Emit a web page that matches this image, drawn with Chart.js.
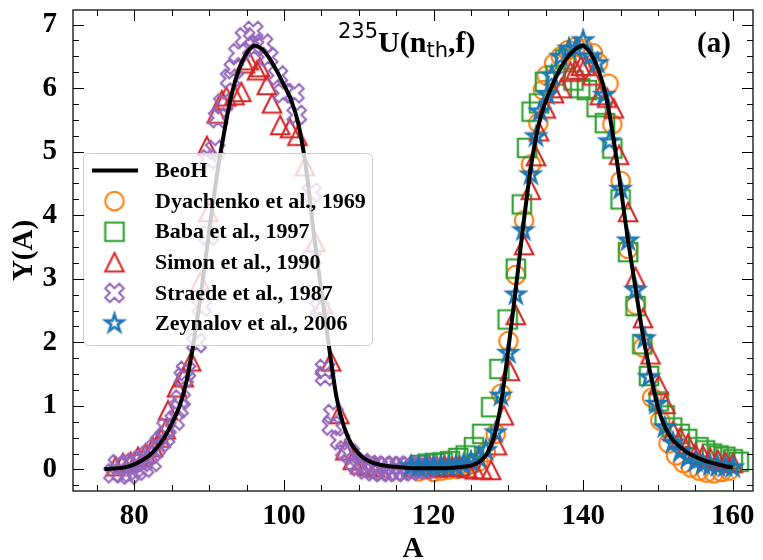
<!DOCTYPE html>
<html>
<head>
<meta charset="utf-8">
<script src="https://cdn.jsdelivr.net/npm/chart.js@4.4.0/dist/chart.umd.min.js"></script>
<style>
  html, body { margin: 0; padding: 0; background: #fff; }
  #wrap { width: 763px; height: 560px; }
</style>
</head>
<body>
<div id="wrap"><canvas id="chart" width="763" height="560"></canvas></div>
<script>
// ---- data ----
const xTicks = [80, 100, 120, 140, 160];
const yTicks = [0, 1, 2, 3, 4, 5, 6, 7];

const beohA = [76, 77, 78, 79, 80, 81, 82, 83, 84, 85, 86, 87, 88, 89, 90, 91, 92, 93, 94, 95,
  96, 97, 98, 99, 100, 101, 102, 103, 104, 105, 106, 107, 108, 109, 110, 111, 112, 113, 114, 115,
  116, 117, 118, 119, 120, 121, 122, 123, 124, 125, 126, 127, 128, 129, 130, 131, 132, 133, 134, 135,
  136, 137, 138, 139, 140, 141, 142, 143, 144, 145, 146, 147, 148, 149, 150, 151, 152, 153, 154, 155,
  156, 157, 158, 159, 160];
const beohY = [0.005, 0.01, 0.02, 0.04, 0.08, 0.14, 0.22, 0.34, 0.5, 0.72, 0.98, 1.4, 2.05, 2.85, 3.75, 4.6, 5.3, 5.9, 6.3, 6.55,
  6.67, 6.62, 6.48, 6.28, 6.05, 5.8, 5.4, 4.7, 3.7, 2.8, 1.95, 1.15, 0.68, 0.4, 0.25, 0.15, 0.1, 0.07, 0.05, 0.04,
  0.03, 0.02, 0.02, 0.02, 0.02, 0.02, 0.02, 0.03, 0.04, 0.06, 0.11, 0.22, 0.48, 1.02, 1.9, 2.85, 3.85, 4.75, 5.4, 5.8,
  6.08, 6.32, 6.5, 6.62, 6.67, 6.55, 6.3, 5.9, 5.25, 4.45, 3.6, 2.85, 2.1, 1.5, 0.97, 0.65, 0.46, 0.35, 0.26, 0.2,
  0.15, 0.11, 0.08, 0.05, 0.03];

const dyachenkoA = [118, 119, 120, 121, 122, 123, 124, 125, 126, 127, 128.3, 129, 130, 131, 132.1, 133, 134, 134.6, 135.1, 136.1,
  137, 138, 139, 140, 141.3, 142, 143.4, 143.9, 145, 146, 147, 148, 149.2, 150.3, 151.4, 152.4, 153.4, 154.4, 155.5, 156.5,
  157.5, 158.5, 159.5];
const dyachenkoY = [-0.03, 0.0, -0.04, -0.02, 0.0, 0.01, 0.03, 0.08, 0.12, 0.27, 0.56, 1.19, 2.02, 3.06, 3.92, 4.8, 5.45, 5.97, 6.2, 6.39,
  6.5, 6.6, 6.65, 6.62, 6.55, 6.4, 6.07, 5.43, 4.54, 3.47, 2.59, 1.92, 1.13, 0.77, 0.41, 0.22, 0.1, 0.03, -0.02, -0.05,
  -0.06, -0.04, -0.02];

const babaA = [118.2, 119.2, 120.2, 121.2, 122.2, 123.3, 124.3, 125.4, 126.5, 127.7, 128.8, 129.9, 131, 131.8, 132.5, 133.1, 134.1, 134.9, 136.3, 137.6,
  138.7, 139.6, 140.5, 141.8, 142.9, 143.9, 145, 146, 147, 147.9, 148.8, 150.1, 150.9, 151.9, 152.9, 153.9, 155.4, 156.3, 157.2, 158.1,
  159, 160, 160.8];
const babaY = [0.07, 0.09, 0.1, 0.11, 0.13, 0.18, 0.22, 0.35, 0.56, 0.98, 1.58, 2.36, 3.16, 4.17, 5.06, 5.63, 5.76, 6.1, 6.2, 6.45,
  6.12, 6.0, 5.97, 5.7, 5.45, 5.05, 4.25, 3.42, 2.57, 1.97, 1.47, 1.07, 0.85, 0.66, 0.56, 0.48, 0.35, 0.3, 0.25, 0.22,
  0.2, 0.16, 0.12];

const simonA = [77.5, 78.5, 79.5, 80.5, 81.5, 82.5, 83.5, 84.2, 84.5, 85.7, 86.6, 87.6, 88.8, 89.9, 89.7, 91, 91.7, 92.3, 93.4, 94.3,
  94.8, 95.3, 96.4, 96.8, 97.7, 98.4, 99.5, 100.8, 101.8, 102.8, 104.2, 105.2, 106.3, 107.4, 108.2, 109.2, 110.2, 111.2, 112.2,
  117.5, 118.5, 119.5, 120.5, 121.5, 122.5, 123.5, 124.5, 125.5, 126.5, 127.7, 128.5, 129.4, 130.2, 131, 132.1, 133, 133.7, 134.1,
  135, 136.1, 137.1, 138.3, 139, 139.7, 140.3, 141.2, 142.2, 143.2, 144.1, 144.8, 146, 147, 148, 149, 150.1, 151, 152,
  153, 154, 155, 156, 157, 158, 159, 160];
const simonY = [0.05, 0.1, 0.12, 0.2, 0.25, 0.35, 0.5, 0.63, 0.93, 1.29, 1.45, 1.7, 2.95, 4.05, 5.09, 5.6, 5.81, 5.87, 5.89, 5.94,
  6.39, 6.44, 6.28, 6.33, 6.05, 5.76, 5.42, 5.37, 5.25, 4.77, 3.58, 2.6, 1.7, 0.87, 0.3, 0.15, 0.08, 0.05, 0.03,
  0.03, 0.02, 0.04, 0.03, 0.05, 0.04, 0.05, 0.02, 0.0, 0.0, -0.01, 0.38, 0.85, 1.55, 2.43, 3.53, 4.4, 4.93, 5.32,
  5.68, 5.92, 6.0, 6.26, 6.29, 6.35, 6.35, 6.2, 5.89, 5.85, 5.68, 4.95, 4.05, 3.03, 2.38, 1.81, 1.33, 1.03, 0.6,
  0.5, 0.4, 0.25, 0.22, 0.18, 0.15, 0.12, 0.1];

const straedeA = [77.2, 77.8, 78.3, 78.8, 79.3, 79.8, 80.3, 80.8, 81.3, 81.8, 82.3, 82.8, 83.5, 84.1, 84.3, 85.4, 85.9, 86.2, 86.6, 86.9,
  88.3, 89, 89.9, 89.9, 90.8, 91.2, 91.9, 92.8, 93.3, 93.9, 94.8, 95.9, 96, 97.2, 97.9, 99.2, 99.9, 101.4, 101.7, 103.7,
  103.7, 104.8, 105.5, 105.5, 106.4, 106.6, 107.5, 108.2, 108.8, 109.5, 110, 110.5, 111, 111.5, 112, 112.5, 113, 113.5, 114, 114.5,
  115, 115.5, 116, 116.5, 117, 117.5, 118, 118.5, 119, 119.5];
const straedeY = [-0.06, 0.08, -0.05, 0.05, -0.08, 0.1, -0.02, 0.15, 0.03, 0.22, 0.12, 0.33, 0.43, 0.51, 0.66, 0.77, 0.96, 1.1, 1.45, 1.55,
  1.99, 2.56, 3.68, 4.88, 5.03, 5.53, 5.76, 6.15, 6.3, 6.55, 6.8, 6.9, 6.65, 6.7, 6.49, 6.2, 5.92, 5.92, 5.58, 4.36,
  3.32, 2.54, 1.58, 1.47, 0.69, 0.87, 0.46, 0.3, 0.25, 0.12, 0.05, 0.1, 0.0, 0.07, -0.03, 0.05, -0.04, 0.06, -0.03, 0.05,
  -0.04, 0.05, -0.03, 0.06, -0.02, 0.05, 0.0, 0.05, 0.0, 0.05];

const zeynalovA = [117, 118, 119, 120, 121, 122, 123, 124, 125, 126, 127, 128.3, 129, 130, 131, 132, 133, 133.7, 134.2, 135.2,
  135.8, 137, 138.1, 139, 140, 141, 141.9, 142.8, 143.5, 145, 146, 147, 148.2, 148.8, 149.8, 150.9, 152, 153, 154, 155,
  156, 157, 158, 159, 160];
const zeynalovY = [0.05, 0.04, 0.06, 0.05, 0.06, 0.05, 0.06, 0.08, 0.12, 0.18, 0.3, 0.58, 1.16, 1.83, 2.75, 3.76, 4.64, 5.24, 5.63, 5.9,
  6.2, 6.49, 6.62, 6.62, 6.75, 6.5, 6.39, 5.89, 5.16, 4.41, 3.6, 2.82, 2.06, 1.45, 1.03, 0.66, 0.42, 0.28, 0.18, 0.12,
  0.08, 0.06, 0.05, 0.04, 0.03];

// ---- styling ----
const C = { orange: '#ff7f0e', green: '#2ca02c', red: '#d62728', purple: '#9467bd', blue: '#1f77b4' };
const SERIF = '"Liberation Serif", "Times New Roman", serif';

function marker(kind, color) {
  const S = 18.5, D = 30, c = D / 2;
  const cv = document.createElement('canvas');
  cv.width = D; cv.height = D;
  const g = cv.getContext('2d');
  g.strokeStyle = color;
  g.lineWidth = kind === 'star' ? 2.6 : 2.1;
  g.beginPath();
  const poly = (pts) => { pts.forEach(([px, py], i) => i ? g.lineTo(c + px, c + py) : g.moveTo(c + px, c + py)); g.closePath(); };
  if (kind === 'circle') g.arc(c, c, S / 2, 0, Math.PI * 2);
  else if (kind === 'square') g.rect(c - S / 2, c - S / 2, S, S);
  else if (kind === 'triangle') poly([[0, -S / 2], [-S / 2, S / 2], [S / 2, S / 2]]);
  else if (kind === 'x') poly([[-1, -2], [0, -1], [1, -2], [2, -1], [1, 0], [2, 1], [1, 2], [0, 1], [-1, 2], [-2, 1], [-1, 0], [-2, -1]].map(([a, b]) => [a * S / 4, b * S / 4]));
  else if (kind === 'star') {
    const pts = [];
    for (let i = 0; i < 10; i++) {
      const r = i % 2 ? S / 2 * 0.381966 : S / 2;
      const t = -Math.PI / 2 + i * Math.PI / 5;
      pts.push([r * Math.cos(t), r * Math.sin(t)]);
    }
    poly(pts);
  }
  g.stroke();
  return cv;
}

const pts = (xs, ys) => xs.map((v, i) => ({ x: v, y: ys[i] }));
const scatterSet = (label, xs, ys, kind, color, order) => ({
  label, data: pts(xs, ys), showLine: false, pointStyle: marker(kind, color),
  pointRadius: 10, pointBorderWidth: 0, order
});

const datasets = [
  { label: 'BeoH', data: pts(beohA, beohY), showLine: true, borderColor: '#000', borderWidth: 4,
    pointRadius: 0, tension: 0.2, order: 0 },
  scatterSet('Dyachenko et al., 1969', dyachenkoA, dyachenkoY, 'circle', C.orange, 5),
  scatterSet('Baba et al., 1997', babaA, babaY, 'square', C.green, 4),
  scatterSet('Simon et al., 1990', simonA, simonY, 'triangle', C.red, 3),
  scatterSet('Straede et al., 1987', straedeA, straedeY, 'x', C.purple, 2),
  scatterSet('Zeynalov et al., 2006', zeynalovA, zeynalovY, 'star', C.blue, 1)
];

// legend box, drawn over the marks like matplotlib's framed legend
const legendBox = {
  id: 'legendBox',
  afterDatasetsDraw(chart) {
    const ctx = chart.ctx;
    const x0 = 83.5, y0 = 153.5, w = 289, h = 192, r = 5;
    ctx.save();
    ctx.beginPath();
    ctx.roundRect(x0, y0, w, h, r);
    ctx.fillStyle = 'rgba(255,255,255,0.8)';
    ctx.fill();
    ctx.strokeStyle = '#cccccc';
    ctx.lineWidth = 1;
    ctx.stroke();
    ctx.font = 'bold 22px ' + SERIF;
    ctx.fillStyle = '#000';
    ctx.textBaseline = 'middle';
    chart.data.datasets.forEach((ds, i) => {
      const cy = 170.5 + i * 30.6;
      if (ds.showLine) {
        ctx.strokeStyle = ds.borderColor;
        ctx.lineWidth = ds.borderWidth;
        ctx.beginPath();
        ctx.moveTo(92, cy);
        ctx.lineTo(138, cy);
        ctx.stroke();
      } else {
        const m = ds.pointStyle;
        ctx.drawImage(m, 114.5 - m.width / 2, cy - m.height / 2);
      }
      ctx.fillText(ds.label, 155, cy + 1);
    });
    ctx.restore();
  }
};

// frame with inward ticks on all four sides, plus the panel labels
const frameTicks = {
  id: 'frameTicks',
  afterDraw(chart) {
    const { ctx, chartArea: a, scales: { x, y } } = chart;
    ctx.save();
    ctx.strokeStyle = '#000';
    ctx.lineWidth = 1.25;
    ctx.strokeRect(a.left, a.top, a.right - a.left, a.bottom - a.top);
    ctx.lineWidth = 1;
    const seg = (x1, y1, x2, y2) => { ctx.beginPath(); ctx.moveTo(x1, y1); ctx.lineTo(x2, y2); ctx.stroke(); };
    const xMinor = [], yMinor = [];
    for (let v = 75; v <= 160; v += 5) if (!xTicks.includes(v)) xMinor.push(v);
    for (let v = -0.25; v <= 7.2; v += 0.25) if (Math.abs(v - Math.round(v)) > 0.01) yMinor.push(v);
    xTicks.forEach(v => { const p = Math.round(x.getPixelForValue(v)) + 0.5; seg(p, a.bottom, p, a.bottom - 11); seg(p, a.top, p, a.top + 11); });
    xMinor.forEach(v => { const p = Math.round(x.getPixelForValue(v)) + 0.5; seg(p, a.bottom, p, a.bottom - 6); seg(p, a.top, p, a.top + 6); });
    yTicks.forEach(v => { const p = Math.round(y.getPixelForValue(v)) + 0.5; seg(a.left, p, a.left + 11, p); seg(a.right, p, a.right - 11, p); });
    yMinor.forEach(v => { const p = Math.round(y.getPixelForValue(v)) + 0.5; seg(a.left, p, a.left + 6, p); seg(a.right, p, a.right - 6, p); });

    // reaction label: 235U(n_th,f)
    ctx.fillStyle = '#000';
    ctx.textBaseline = 'alphabetic';
    let cx = 338;
    const base = 52;
    const part = (txt, font, dy) => { ctx.font = font; ctx.fillText(txt, cx, base + dy); cx += ctx.measureText(txt).width; };
    part('235', '21px "DejaVu Sans"', -14);
    part('U(n', 'bold 30px ' + SERIF, 0);
    part('th', '21px "DejaVu Sans"', 5);
    part(',f)', 'bold 30px ' + SERIF, 0);
    ctx.font = 'bold 29px ' + SERIF;
    ctx.fillText('(a)', 697, base);
    ctx.restore();
  }
};

const tickFont = { family: SERIF, size: 29, weight: 'bold' };

new Chart(document.getElementById('chart'), {
  type: 'scatter',
  data: { datasets },
  options: {
    responsive: false,
    animation: false,
    devicePixelRatio: 1,
    layout: { padding: { left: 0, top: 6, right: 9, bottom: 0 } },
    plugins: { legend: { display: false }, tooltip: { enabled: false } },
    scales: {
      x: {
        type: 'linear', min: 71.8, max: 162.7,
        afterBuildTicks: s => { s.ticks = xTicks.map(v => ({ value: v })); },
        afterFit: s => { s.height = 69; s.paddingLeft = 0; s.paddingRight = 0; },
        grid: { display: false, drawTicks: false },
        border: { display: false },
        ticks: { font: tickFont, color: '#000', padding: 8, maxRotation: 0, autoSkip: false },
        title: { display: true, text: 'A', font: tickFont, color: '#000', padding: { top: 0, bottom: -7 } }
      },
      y: {
        type: 'linear', min: -0.34, max: 7.23,
        afterBuildTicks: s => { s.ticks = yTicks.map(v => ({ value: v })); },
        afterFit: s => { s.width = 73; s.paddingTop = 0; s.paddingBottom = 0; },
        grid: { display: false, drawTicks: false },
        border: { display: false },
        ticks: { font: tickFont, color: '#000', padding: 16, autoSkip: false },
        title: { display: true, text: 'Y(A)', font: tickFont, color: '#000', padding: { top: 7, bottom: 0 } }
      }
    }
  },
  plugins: [legendBox, frameTicks]
});
</script>
</body>
</html>
